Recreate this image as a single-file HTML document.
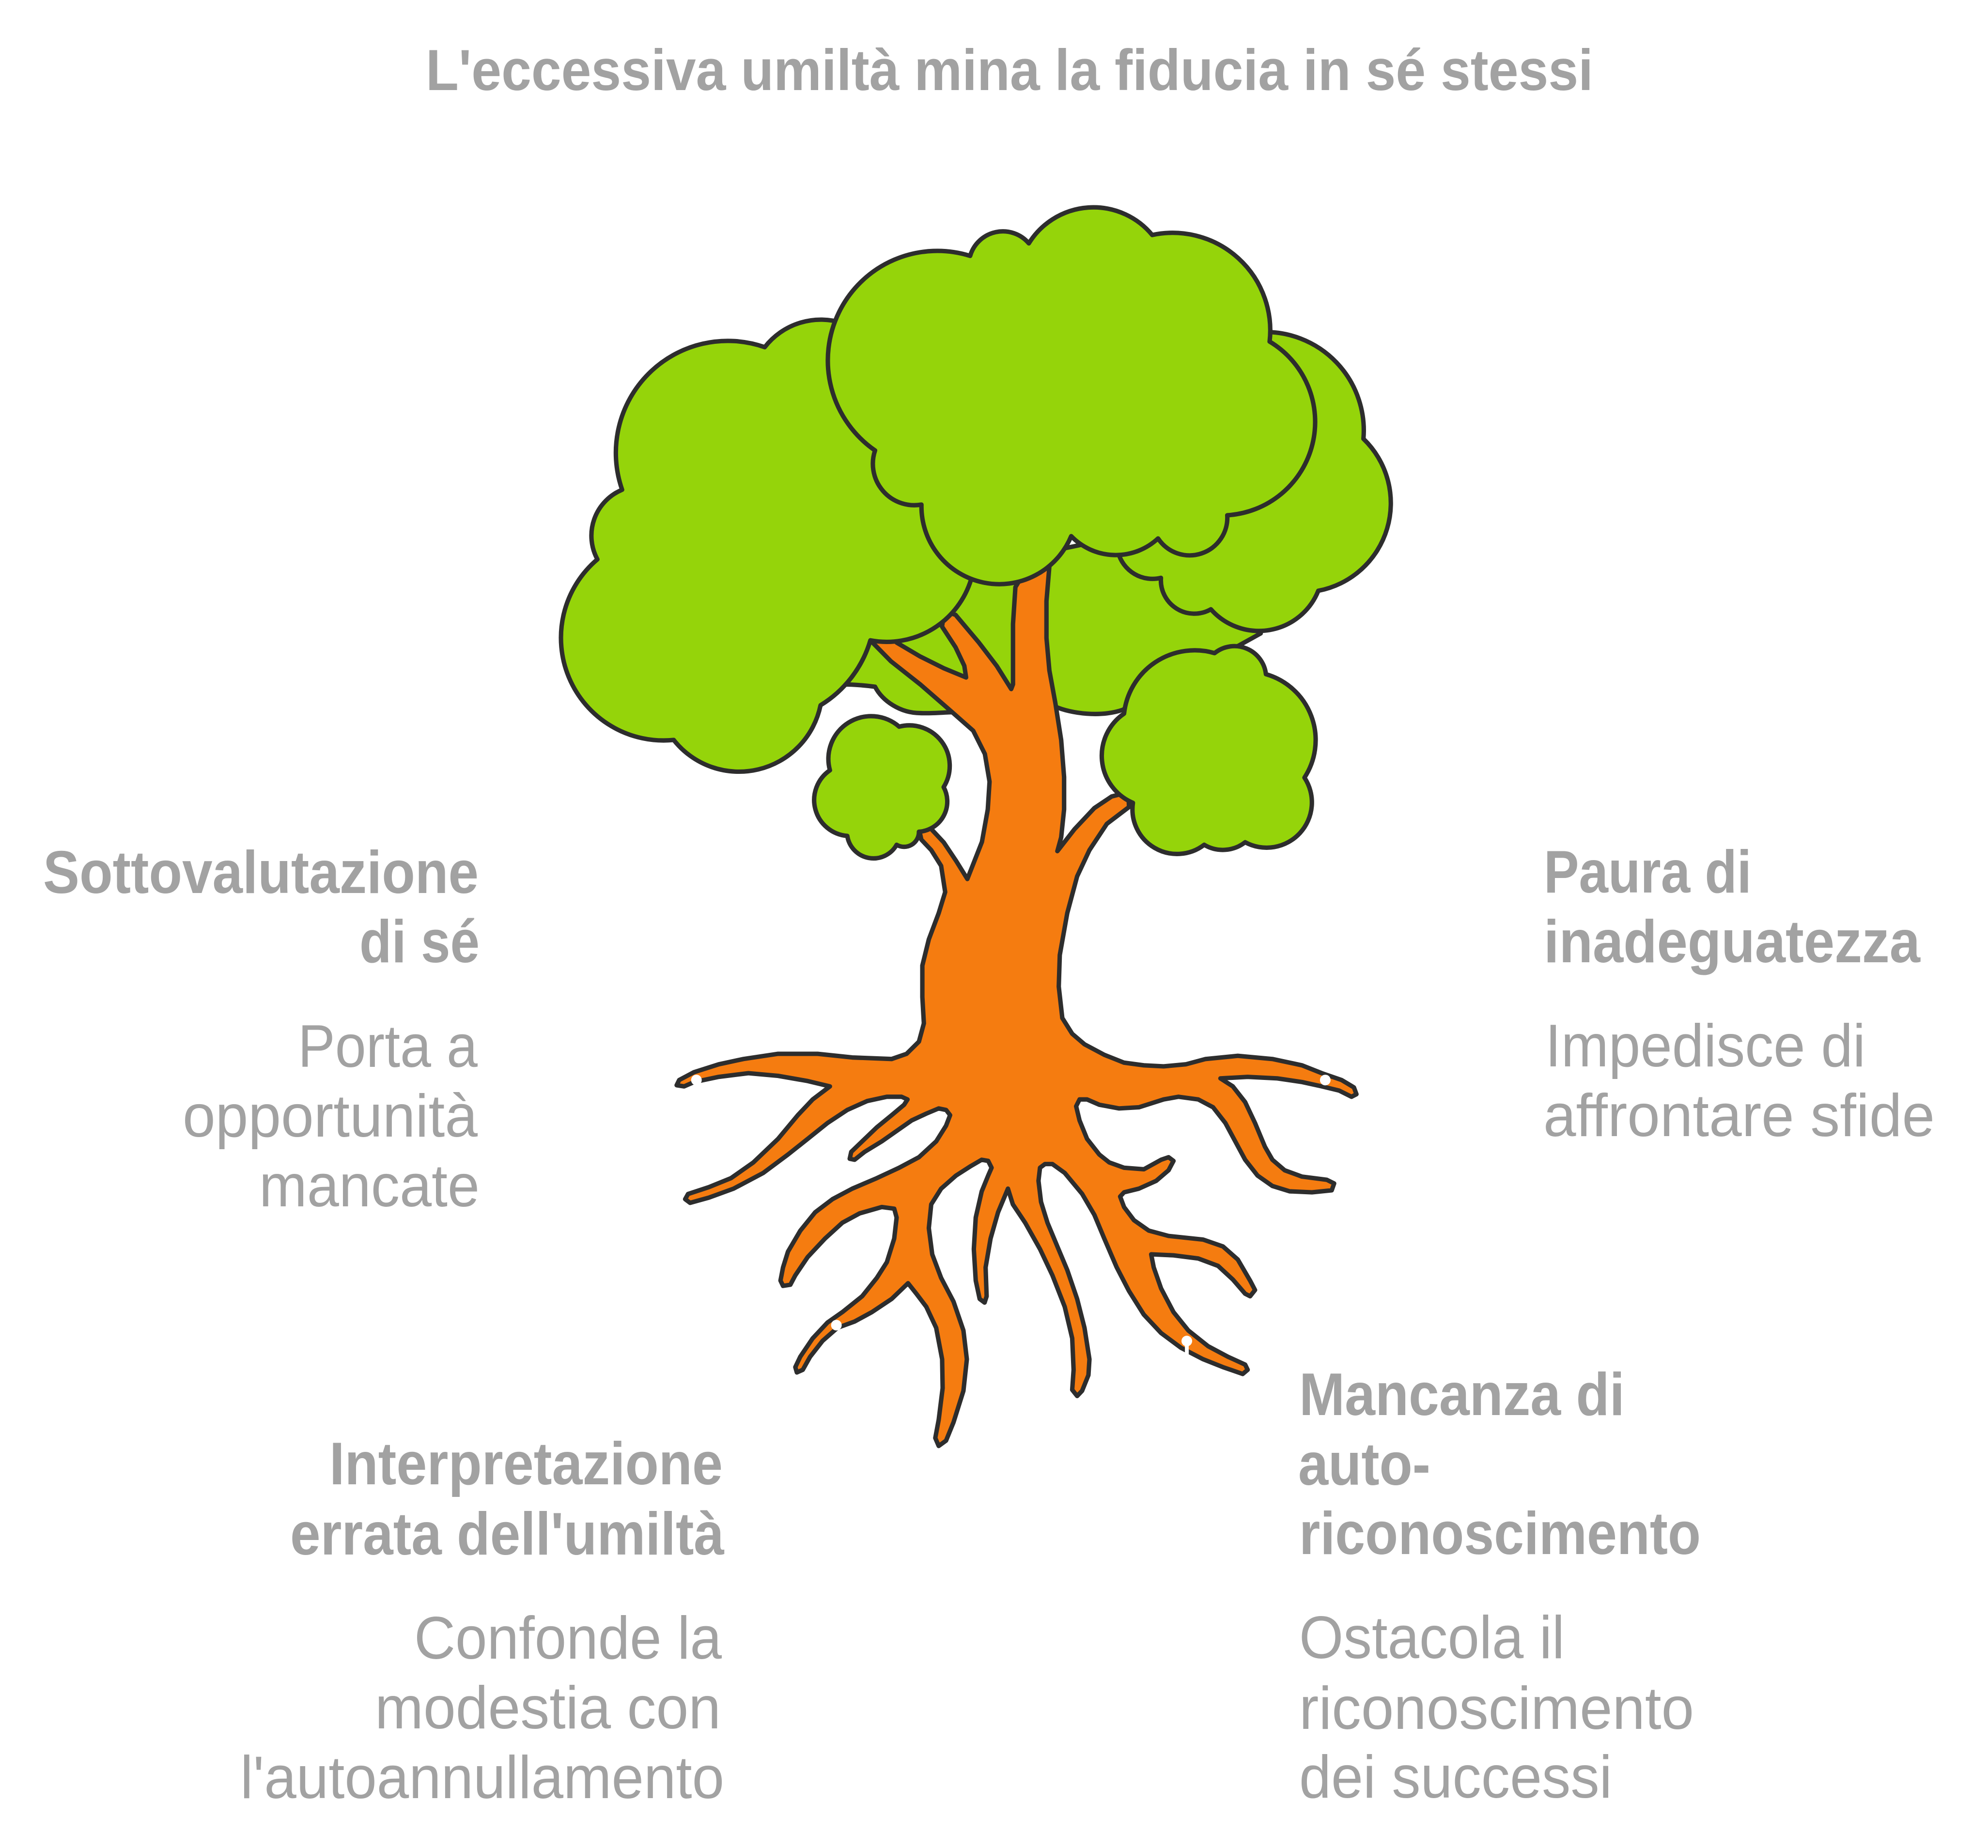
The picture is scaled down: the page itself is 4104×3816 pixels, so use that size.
<!DOCTYPE html>
<html>
<head>
<meta charset="utf-8">
<style>
  html, body { margin: 0; padding: 0; background: #ffffff; }
  svg { display: block; }
  .h { font-family: "Liberation Sans", Arial, sans-serif; font-weight: bold; fill: #a2a2a2; font-size: 124px; }
  .d { font-family: "Liberation Sans", Arial, sans-serif; font-weight: normal; fill: #a2a2a2; font-size: 124px; }
  .t { font-family: "Liberation Sans", Arial, sans-serif; font-weight: bold; fill: #a2a2a2; font-size: 120px; }
</style>
</head>
<body>
<svg xmlns="http://www.w3.org/2000/svg" width="4104" height="3816" viewBox="0 0 4104 3816">
  <rect x="0" y="0" width="4104" height="3816" fill="#ffffff"/>

  <!-- Title -->
  <text class="t" x="879" y="186" textLength="2410" lengthAdjust="spacingAndGlyphs">L'eccessiva umiltà mina la fiducia in sé stessi</text>

  <!-- Tree (drawn in 1568x1458 units, scaled) -->
  <g transform="scale(2.6173)" stroke="#2d2d2d" stroke-width="3.5" stroke-linejoin="round" stroke-linecap="round">
    <!-- middle back green -->
    <path fill="#95d40a" d="M 663.4,540 Q 677,540 690.2,541.8 C 696,553 710,562.6 725.9,562.6 C 735,563 745,562 751.3,561.9 L 832.4,557.5 C 845,563 868,566 885.6,560 L 994.4,499.7 L 985,480 L 900,420 L 780,445 L 700,495 L 660,530 Z"/>

    <!-- trunk, branches, roots -->
    <path fill="#f57c10" d="M 680,498 L 686.5,505.2 L 702.7,521.7 L 725.9,540.0 L 749.0,560.1 L 767.6,576.5 L 776.8,594.8 L 780.5,616.7 L 779.1,638.6 L 774.5,664.2 L 763.0,693.5 L 754.0,679.0 L 744.3,664.5 L 735.3,654.9 L 730,646 L 724,650 L 726.7,662.4 L 734.5,670.7 L 742.3,683.1 L 745.5,703.8 L 740.4,720.4 L 732.6,741.1 L 727.5,761.8 L 727.5,786.6 L 728.7,807.4 L 724.8,821.8 L 715.1,831.4 L 703.3,835.5 L 672.2,834.3 L 644.9,831.4 L 613.7,831.4 L 586.4,835.5 L 566.9,839.7 L 547.4,845.9 L 535.7,852.1 L 533.7,856.2 L 539.6,857.1 L 547.4,853.7 L 566.9,849.6 L 590.3,846.7 L 613.7,848.8 L 637.1,852.9 L 654.6,857.1 L 641.0,867.4 L 629.3,879.8 L 613.7,898.5 L 594.2,917.1 L 576.6,929.5 L 559.1,936.6 L 542.7,942.0 L 540.4,946.1 L 544.3,949.0 L 559.1,944.9 L 578.6,937.8 L 602.0,925.4 L 621.5,910.9 L 637.1,898.5 L 652.7,886.0 L 668.3,875.7 L 683.9,868.7 L 699.5,865.3 L 711.1,865.3 L 715.8,867.4 L 713.1,871.6 L 703.3,879.8 L 691.6,889.4 L 680.0,900.5 L 671.4,908.8 L 670.2,914.2 L 674.1,915.0 L 681.9,908.8 L 695.5,900.5 L 707.2,892.3 L 719.0,884.0 L 730.6,878.6 L 740.4,874.5 L 746.2,875.7 L 749.4,879.8 L 746.2,888.1 L 738.4,900.5 L 724.8,913.0 L 709.2,921.3 L 691.6,929.5 L 672.2,937.8 L 656.6,946.1 L 642.9,956.5 L 631.2,971.0 L 621.5,987.5 L 617.6,1000.0 L 615.6,1010.3 L 617.6,1014.5 L 623.4,1013.6 L 627.3,1006.2 L 637.1,991.7 L 650.7,977.2 L 664.4,964.7 L 678.0,957.3 L 695.5,952.3 L 705.3,953.6 L 707.2,960.6 L 705.3,977.2 L 699.5,995.8 L 691.6,1008.2 L 680.0,1022.7 L 664.4,1035.2 L 652.7,1043.4 L 641.0,1055.9 L 631.2,1070.4 L 627.3,1078.6 L 628.5,1082.8 L 633.2,1080.7 L 639.0,1070.4 L 648.8,1057.9 L 660.5,1047.6 L 674.1,1042.6 L 687.7,1035.2 L 703.3,1024.8 L 716.2,1012.4 L 722.8,1020.7 L 730.6,1031.0 L 738.4,1047.6 L 743.1,1072.4 L 743.5,1095.2 L 740.4,1120.1 L 737.7,1134.5 L 740.4,1140.8 L 746.2,1136.6 L 752.1,1122.1 L 759.9,1097.3 L 762.6,1072.4 L 759.9,1049.7 L 752.1,1026.9 L 742.3,1008.2 L 735.3,989.6 L 732.6,968.9 L 734.5,950.2 L 742.3,937.8 L 754.0,927.5 L 765.7,920.0 L 774.3,915.0 L 779.4,915.9 L 782.1,921.3 L 779.4,927.5 L 774.3,940.0 L 769.6,960.6 L 768.1,985.5 L 769.6,1010.3 L 772.7,1024.8 L 776.6,1027.7 L 778.2,1022.7 L 777.4,999.9 L 781.3,977.2 L 787.2,956.5 L 795.0,937.8 L 798.9,950.2 L 808.6,964.7 L 820.3,985.5 L 830.1,1006.2 L 839.8,1031.0 L 845.7,1055.9 L 846.8,1080.7 L 845.7,1096.5 L 849.6,1101.4 L 853.5,1097.3 L 858.5,1084.9 L 859.3,1072.4 L 855.4,1047.6 L 849.6,1024.8 L 841.8,1002.0 L 834.0,983.4 L 826.2,964.7 L 821.1,948.2 L 819.1,931.6 L 820.3,921.3 L 824.2,918.4 L 830.1,918.4 L 839.8,925.4 L 853.5,941.9 L 863.2,958.5 L 871.0,977.2 L 880.8,999.9 L 890.5,1018.6 L 902.2,1037.2 L 915.8,1051.7 L 931.4,1063.3 L 949.0,1072.4 L 964.6,1078.6 L 980.2,1084.0 L 984.1,1080.7 L 982.1,1076.6 L 968.5,1070.4 L 952.9,1062.1 L 937.3,1049.7 L 925.6,1035.2 L 915.8,1016.5 L 910.0,999.9 L 908.0,989.6 L 925.6,990.4 L 945.1,992.9 L 960.7,998.7 L 972.4,1009.5 L 982.1,1020.7 L 986.0,1022.7 L 989.9,1017.8 L 986.0,1010.3 L 976.3,993.7 L 964.6,983.4 L 949.0,978.0 L 921.7,975.1 L 906.1,970.9 L 894.4,962.7 L 886.6,952.3 L 883.5,944.0 L 886.6,940.7 L 898.3,937.8 L 912.0,931.6 L 921.7,923.3 L 925.6,915.9 L 921.7,913.0 L 915.8,915.0 L 902.2,922.5 L 886.6,921.3 L 874.9,917.1 L 867.1,910.9 L 857.4,898.5 L 851.5,884.0 L 848.8,872.8 L 851.5,867.4 L 857.4,867.4 L 867.1,871.6 L 882.7,874.5 L 898.3,873.6 L 917.8,867.4 L 929.5,865.3 L 945.1,867.4 L 956.8,873.6 L 966.5,886.0 L 974.3,900.5 L 982.1,915.0 L 991.9,927.5 L 1003.6,935.7 L 1017.2,939.9 L 1034.8,940.7 L 1050.4,939.1 L 1052.3,933.7 L 1046.5,930.8 L 1027.0,928.3 L 1013.3,923.3 L 1003.6,915.0 L 997.7,904.7 L 989.9,886.0 L 982.1,869.5 L 972.4,857.1 L 962.6,850.8 L 984.1,849.6 L 1007.5,850.8 L 1027.0,853.7 L 1042.6,857.1 L 1056.2,860.4 L 1066.0,865.3 L 1069.9,863.3 L 1067.9,857.9 L 1058.2,852.1 L 1042.6,846.7 L 1027.0,840.5 L 1003.6,835.5 L 976.3,833.0 L 950.9,835.5 L 935.3,839.7 L 917.8,841.3 L 902.2,840.5 L 886.6,838.4 L 871.0,832.2 L 855.4,823.9 L 845.7,815.6 L 837.9,803.2 L 835.1,778.4 L 835.9,753.5 L 841.8,720.4 L 849.6,691.4 L 859.3,670.7 L 873.0,650.0 L 890.5,636.7 L 890,625 L 876.8,628.4 L 863.2,637.5 L 847.6,654.1 L 834.0,671.5 L 837.0,660.6 L 839.3,638.6 L 839.3,613.1 L 837.0,583.8 L 832.4,554.6 L 827.7,529.0 L 825.4,503.4 L 825.4,474.2 L 827.7,446.8 L 815,440 L 800.9,463.2 L 799.0,492.4 L 799.0,539.9 L 797.6,543.6 L 786.1,525.3 L 772.2,507.1 L 753.7,485.1 L 745,482 L 743.0,494.3 L 753.7,510.7 L 760.6,525.3 L 762.0,534.5 L 744.4,527.2 L 725.9,518.0 L 707.4,507.1 L 698,498 Z"/>

    <!-- left big cloud -->
    <path fill="#95d40a" d="M 766,457 A 69.6 69.6 0 0 1 686.5,505.2 A 89.7 89.7 0 0 1 647.2,556.4 A 65.6 65.6 0 0 1 531.4,583.8 A 81 81 0 0 1 471.2,441.3 A 39.2 39.2 0 0 1 490.7,386.4 A 88.3 88.3 0 0 1 603.2,273.9 A 56 56 0 0 1 665,255 L 700,300 L 760,440 Z"/>

    <!-- back right cloud -->
    <path fill="#95d40a" d="M 995,262 A 77.7 77.7 0 0 1 1075.4,346.2 A 70.4 70.4 0 0 1 1039.8,466.1 A 50.5 50.5 0 0 1 955.1,480.7 A 26.4 26.4 0 0 1 915.7,455.9 A 28 28 0 0 1 882,436 L 940,330 Z"/>

    <!-- front top cloud -->
    <path fill="#95d40a" d="M 690.2,355.4 A 86.4 86.4 0 0 1 765.2,201.9 A 26.9 26.9 0 0 1 811.5,192.0 A 60 60 0 0 1 908.8,185.4 A 77 77 0 0 1 1001.4,269.5 A 73.8 73.8 0 0 1 968.0,406.5 A 29.8 29.8 0 0 1 913.4,424.8 A 48.9 48.9 0 0 1 844.9,423.0 A 61.4 61.4 0 0 1 726.8,398.1 A 32.7 32.7 0 0 1 690.2,355.4 Z"/>

    <!-- small left bush -->
    <path fill="#95d40a" d="M 709.2,573.3 A 31.9 31.9 0 0 1 744.3,621.0 A 23.9 23.9 0 0 1 724.8,656.2 A 11.7 11.7 0 0 1 707.2,666.5 A 20.9 20.9 0 0 1 668.3,659.5 A 28.4 28.4 0 0 1 654.6,607.7 A 33.7 33.7 0 0 1 709.2,573.3 Z"/>

    <!-- right bush -->
    <path fill="#95d40a" d="M 958.0,515.3 A 25 25 0 0 1 998.5,531.9 A 54.1 54.1 0 0 1 1028.9,613.5 A 35.7 35.7 0 0 1 982.1,664.5 A 28.7 28.7 0 0 1 949.8,666.5 A 35.2 35.2 0 0 1 893.6,633.4 A 40.3 40.3 0 0 1 886.6,563.0 A 56.1 56.1 0 0 1 958.0,515.3 Z"/>

    <!-- white dots -->
    <g fill="#ffffff" stroke="none">
      <circle cx="549.3" cy="852.1" r="4.2"/>
      <circle cx="1045.3" cy="852.1" r="4.2"/>
      <circle cx="659.7" cy="1045.5" r="4.2"/>
      <circle cx="936.1" cy="1058.0" r="4.2"/>
      <rect x="934.6" y="1058" width="3" height="11"/>
    </g>
  </g>

  <!-- Left block -->
  <text class="h" x="89" y="1844" textLength="899" lengthAdjust="spacingAndGlyphs">Sottovalutazione</text>
  <text class="h" x="742" y="1987" textLength="248" lengthAdjust="spacingAndGlyphs">di sé</text>
  <text class="d" x="615" y="2203" textLength="371" lengthAdjust="spacingAndGlyphs">Porta a</text>
  <text class="d" x="377" y="2347" textLength="609" lengthAdjust="spacingAndGlyphs">opportunità</text>
  <text class="d" x="535" y="2491" textLength="455" lengthAdjust="spacingAndGlyphs">mancate</text>

  <!-- Right top block -->
  <text class="h" x="3187" y="1843" textLength="429" lengthAdjust="spacingAndGlyphs">Paura di</text>
  <text class="h" x="3187" y="1987" textLength="777" lengthAdjust="spacingAndGlyphs">inadeguatezza</text>
  <text class="d" x="3190" y="2202" textLength="661" lengthAdjust="spacingAndGlyphs">Impedisce di</text>
  <text class="d" x="3186" y="2346" textLength="808" lengthAdjust="spacingAndGlyphs">affrontare sfide</text>

  <!-- Bottom left block -->
  <text class="h" x="680" y="3065" textLength="812" lengthAdjust="spacingAndGlyphs">Interpretazione</text>
  <text class="h" x="599" y="3210" textLength="896" lengthAdjust="spacingAndGlyphs">errata dell'umiltà</text>
  <text class="d" x="855" y="3425" textLength="635" lengthAdjust="spacingAndGlyphs">Confonde la</text>
  <text class="d" x="774" y="3569" textLength="714" lengthAdjust="spacingAndGlyphs">modestia con</text>
  <text class="d" x="496" y="3713" textLength="999" lengthAdjust="spacingAndGlyphs">l'autoannullamento</text>

  <!-- Bottom right block -->
  <text class="h" x="2682" y="2922" textLength="672" lengthAdjust="spacingAndGlyphs">Mancanza di</text>
  <text class="h" x="2680" y="3066" textLength="273" lengthAdjust="spacingAndGlyphs">auto-</text>
  <text class="h" x="2682" y="3209" textLength="829" lengthAdjust="spacingAndGlyphs">riconoscimento</text>
  <text class="d" x="2682" y="3424" textLength="548" lengthAdjust="spacingAndGlyphs">Ostacola il</text>
  <text class="d" x="2682" y="3570" textLength="815" lengthAdjust="spacingAndGlyphs">riconoscimento</text>
  <text class="d" x="2682" y="3712" textLength="646" lengthAdjust="spacingAndGlyphs">dei successi</text>
</svg>
</body>
</html>
